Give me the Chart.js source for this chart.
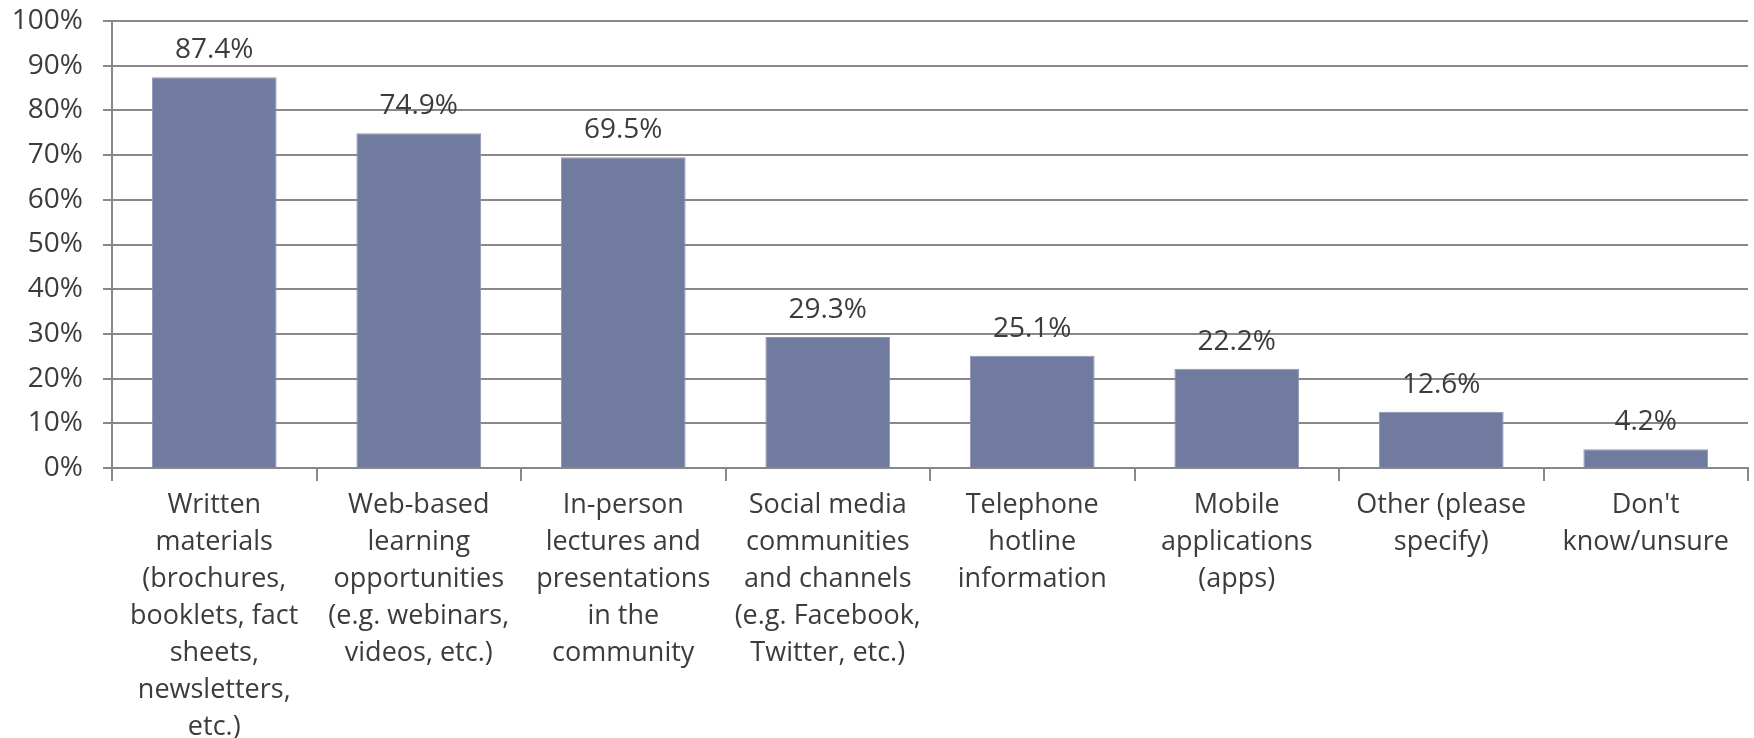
<!DOCTYPE html>
<html>
<head>
<meta charset="utf-8">
<script src="https://cdn.jsdelivr.net/npm/chart.js@4"></script>
<style>
	html, body { margin: 0; padding: 0; background: #fff; }
	.chart-box { width: 1754px; height: 738px; }
</style>
</head>
<body>
<div class="chart-box"><canvas id="infoChart"></canvas></div>
<script>
"use strict"

// Категории (подписи по оси X, построчно)
const categories = [
	['Written', 'materials', '(brochures,', 'booklets, fact', 'sheets,', 'newsletters,', 'etc.)'],
	['Web-based', 'learning', 'opportunities', '(e.g. webinars,', 'videos, etc.)'],
	['In-person', 'lectures and', 'presentations', 'in the', 'community'],
	['Social media', 'communities', 'and channels', '(e.g. Facebook,', 'Twitter, etc.)'],
	['Telephone', 'hotline', 'information'],
	['Mobile', 'applications', '(apps)'],
	['Other (please', 'specify)'],
	["Don't", 'know/unsure'],
];

// Значения в процентах
const values = [87.4, 74.9, 69.5, 29.3, 25.1, 22.2, 12.6, 4.2];

// Деления оси Y
const yTicks = [0, 10, 20, 30, 40, 50, 60, 70, 80, 90, 100];

const textColor = '#3c3c3c';
const gridColor = '#888888';
const fontFamily = '"Open Sans", sans-serif';

// подписи значений над столбцами
const valueLabels = {
	id: 'valueLabels',
	afterDatasetsDraw(chart) {
		const ctx = chart.ctx;
		const meta = chart.getDatasetMeta(0);
		ctx.save();
		ctx.font = '28px ' + fontFamily;
		ctx.fillStyle = textColor;
		ctx.textAlign = 'center';
		ctx.textBaseline = 'alphabetic';
		meta.data.forEach((bar, i) => {
			ctx.fillText(values[i].toFixed(1) + '%', bar.x, bar.y - 19);
		});
		ctx.restore();
	}
};

const infoChart = new Chart(
	document.getElementById('infoChart'),
	{
		type: 'bar',
		data: {
			labels: categories,
			datasets: [
				{
					label: '',
					data: values,
					backgroundColor: '#717ba0',
					borderColor: '#8e96b6',
					borderWidth: 1,
					categoryPercentage: 1,
					barPercentage: 0.61,
				}
			]
		},
		options: {
			responsive: true,
			maintainAspectRatio: false,
			animation: false,
			layout: {
				padding: { top: 0, right: 6, left: 0, bottom: 0 }
			},
			plugins: {
				legend: { display: false },
				tooltip: { enabled: false },
			},
			scales: {
				x: {
					grid: {
						offset: true,
						drawOnChartArea: false,
						drawTicks: true,
						tickLength: 13,
						color: gridColor,
						lineWidth: 2,
					},
					border: { color: gridColor, width: 2 },
					ticks: {
						color: textColor,
						font: { family: fontFamily, size: 27, lineHeight: 1.37 },
						padding: 6,
						maxRotation: 0,
						minRotation: 0,
						autoSkip: false,
					},
					afterFit: scale => { scale.height = 270; },
				},
				y: {
					min: 0,
					max: 100,
					afterBuildTicks: scale => {
						scale.ticks = yTicks.map(v => ({ value: v }));
					},
					grid: {
						color: gridColor,
						lineWidth: 2,
						drawTicks: true,
						tickLength: 9,
					},
					border: { color: gridColor, width: 2 },
					ticks: {
						color: textColor,
						font: { family: fontFamily, size: 28 },
						padding: 20,
						callback: v => v + '%',
					},
					afterFit: scale => {
						scale.width = 112;
						scale.paddingTop = 21;
						scale.paddingBottom = 0;
					},
				}
			}
		},
		plugins: [valueLabels]
	}
);
</script>
</body>
</html>
